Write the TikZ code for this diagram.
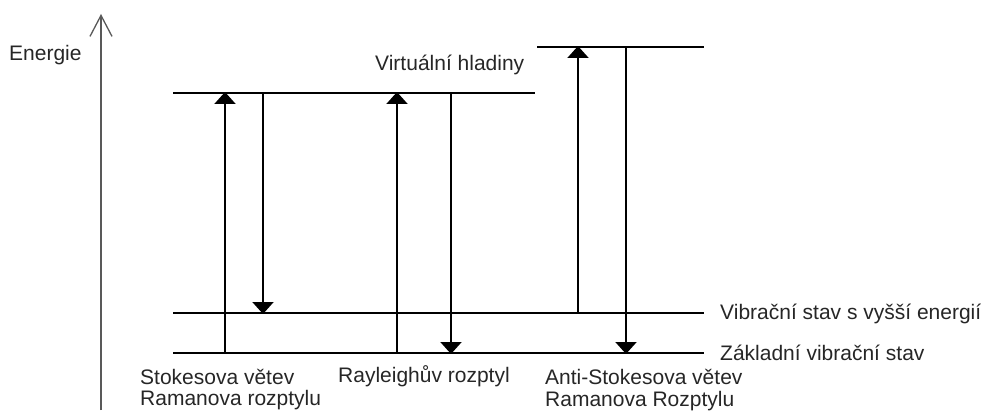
\documentclass[tikz,border=0pt]{standalone}
\usepackage{fontspec}
\setmainfont{Liberation Sans}
\usetikzlibrary{arrows.meta}
\begin{document}
\begin{tikzpicture}[x=1pt,y=-1pt,
  level/.style={line width=1.3pt,black},
  trans/.style={line width=2pt,black,-{Triangle[width=21pt,length=12pt]},shorten >=-1pt},
  axis/.style={line width=1.8pt,black!65,-{Straight Barb[width=22pt,length=21pt,line width=1.3pt]}},
  lbl/.style={anchor=base west,inner sep=0pt,font=\fontsize{21}{25}\selectfont,text=black!85}]
\useasboundingbox (0,0) rectangle (990,414);
% axis
\coordinate (ax0) at (101,410);
\coordinate (ax1) at (101,14);
\draw[axis] (ax0) -- (ax1);
% levels
\coordinate (v1a) at (173,93);  \coordinate (v1b) at (535,93);
\coordinate (v2a) at (537,47);  \coordinate (v2b) at (704,47);
\coordinate (e1a) at (173,313); \coordinate (e1b) at (704,313);
\coordinate (g0a) at (173,353); \coordinate (g0b) at (704,353);
\draw[level] (v1a) -- (v1b);
\draw[level] (v2a) -- (v2b);
\draw[level] (e1a) -- (e1b);
\draw[level] (g0a) -- (g0b);
% transitions
\coordinate (s1) at (225,353); \coordinate (s2) at (225,93);
\coordinate (s3) at (263,93);  \coordinate (s4) at (263,313);
\coordinate (r1) at (397,353); \coordinate (r2) at (397,93);
\coordinate (r3) at (451,93);  \coordinate (r4) at (451,353);
\coordinate (a1) at (578,313); \coordinate (a2) at (578,47);
\coordinate (a3) at (626,47);  \coordinate (a4) at (626,353);
\draw[trans] (s1) -- (s2);
\draw[trans] (s3) -- (s4);
\draw[trans] (r1) -- (r2);
\draw[trans] (r3) -- (r4);
\draw[trans] (a1) -- (a2);
\draw[trans] (a3) -- (a4);
% labels
\node[lbl] (tEn) at (9,61) {Energie};
\node[lbl] (tVirt) at (375,71) {Virtuální hladiny};
\node[lbl] (tVib) at (720,319) {Vibrační stav s vyšší energií};
\node[lbl] (tZak) at (720,360) {Základní vibrační stav};
\node[lbl] (tSt1) at (140,384) {Stokesova větev};
\node[lbl] (tSt2) at (140,405) {Ramanova rozptylu};
\node[lbl] (tRay) at (338,382) {Rayleighův rozptyl};
\node[lbl] (tAS1) at (545,384) {Anti-Stokesova větev};
\node[lbl] (tAS2) at (545,406) {Ramanova Rozptylu};
\end{tikzpicture}
\end{document}
